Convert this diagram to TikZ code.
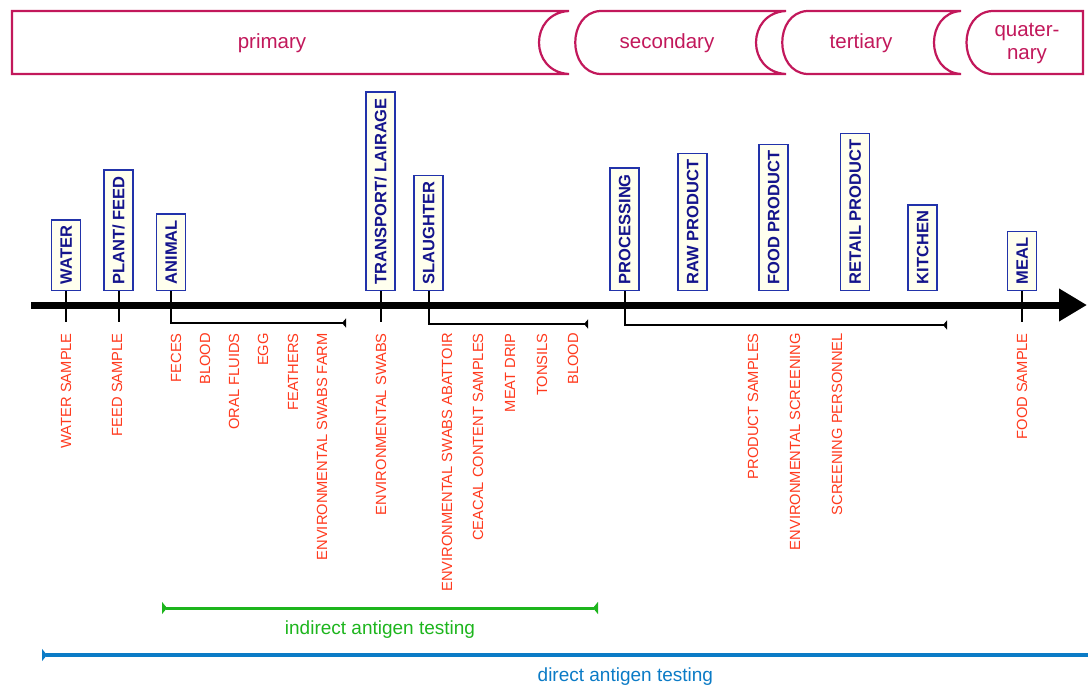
\documentclass[tikz,border=0pt]{standalone}
\usepackage{fontspec}
\setmainfont{Liberation Sans}
\usetikzlibrary{arrows.meta}
\definecolor{phasecol}{HTML}{C2185B}
\definecolor{boxedge}{HTML}{2233AA}
\definecolor{boxtext}{HTML}{14148C}
\definecolor{boxfill}{HTML}{FFFFEE}
\definecolor{samplered}{HTML}{FF3A1E}
\definecolor{indgreen}{HTML}{1DB51D}
\definecolor{dirblue}{HTML}{0B7BC6}

\begin{document}
\begin{tikzpicture}[
x=1pt, y=-1pt,
phase/.style={
  draw=phasecol,
  line width=2.2pt,
  fill=white
  },
phaselabel/.style={text=phasecol, font=\fontsize{20.5}{23}\selectfont, align=center},
stagebox/.style={
  draw=boxedge,
  line width=1.5pt,
  fill=boxfill,
  text=boxtext,
  font=\bfseries\fontsize{16.5}{16.5}\selectfont,
  rotate=90,
  anchor=west,
  inner xsep=6pt,
  inner ysep=8.5pt,
  text height=11.8pt,
  text depth=0pt
  },
sample/.style={text=samplered, font=\fontsize{14.7}{14.7}\selectfont, rotate=90, anchor=east, inner sep=0pt},
stagetick/.style={line width=2pt},
bracket/.style={line width=2pt, -{Triangle[reversed,length=4pt,width=9pt]}},
timeline/.style={line width=7pt, -{Triangle[length=28pt,width=31pt]}},
testing/.style={line width=3pt, {Triangle[reversed,length=5pt,width=12pt]}-{Triangle[reversed,length=5pt,width=12pt]}},
rangelabel/.style={font=\fontsize{19}{22}\selectfont}
]
\useasboundingbox (0,0) rectangle (1088,686);

% phases
\draw[phase] (12,11) -- (569,11) .. controls (529,13) and (529,72) .. (569,74) -- (12,74) -- cycle;
\draw[phase] (600,11) -- (786,11) .. controls (746,13) and (746,72) .. (786,74) -- (600,74) .. controls (567,72) and (567,13) .. (600,11) -- cycle;
\draw[phase] (807,11) -- (961,11) .. controls (925,13) and (925,72) .. (961,74) -- (807,74) .. controls (774,72) and (774,13) .. (807,11) -- cycle;
\draw[phase] (992,11) -- (1083,11) -- (1083,74) -- (992,74) .. controls (958,72) and (958,13) .. (992,11) -- cycle;
\node[phaselabel] (primary) at (272,43) {primary};
\node[phaselabel] (secondary) at (667,43) {secondary};
\node[phaselabel] (tertiary) at (861,43) {tertiary};
\node[phaselabel] (quaternary) at (1027,43) {quater-\\nary};

% stages
\foreach \x/\nm/\txt in {66/water/WATER, 118.5/feed/{PLANT/ FEED}, 171/animal/ANIMAL,
  380.5/transport/{TRANSPORT/ LAIRAGE}, 428.5/slaughter/SLAUGHTER, 624.5/processing/PROCESSING,
  692.5/raw/RAW PRODUCT, 773.5/food/FOOD PRODUCT, 855/retail/RETAIL PRODUCT,
  922.5/kitchen/KITCHEN, 1022/meal/MEAL}
  \node[stagebox] (\nm) at (\x,291) {\txt};

\coordinate (lowend) at (0,322);
\coordinate (animalend) at (346,323);
\coordinate (slaughterend) at (588,324);
\coordinate (processingend) at (947,325);
\foreach \nm in {water,feed,transport,meal}
  \draw[stagetick] (\nm.west) -- (\nm.west |- lowend);
\draw[bracket] (animal.west) |- (animalend);
\draw[bracket] (slaughter.west) |- (slaughterend);
\draw[bracket] (processing.west) |- (processingend);

\coordinate (tstart) at (31,305);
\coordinate (tend) at (1087,305);
\draw[timeline] (tstart) -- (tend);

% samples
\foreach \x/\txt [count=\i] in {66/WATER SAMPLE, 117/FEED SAMPLE, 176/FECES, 205/BLOOD,
  234/ORAL FLUIDS, 263/EGG, 293/FEATHERS, 322/ENVIRONMENTAL SWABS FARM,
  381/ENVIRONMENTAL SWABS, 447/ENVIRONMENTAL SWABS ABATTOIR, 478/CEACAL CONTENT SAMPLES,
  510/MEAT DRIP, 542/TONSILS, 573/BLOOD, 753/PRODUCT SAMPLES,
  795/ENVIRONMENTAL SCREENING, 837/SCREENING PERSONNEL, 1022/FOOD SAMPLE}
  \node[sample] (smp\i) at (\x,333) {\txt};

% testing ranges
\coordinate (indL) at (162,608);
\coordinate (indR) at (598,608);
\coordinate (dirL) at (42,655);
\coordinate (dirR) at (1095,655);
\draw[testing, indgreen] (indL) -- node[below=8pt, rangelabel] {indirect antigen testing} (indR);
\draw[testing, dirblue, line width=3.5pt] (dirL) -- node[pos=0.554, below=8pt, rangelabel] {direct antigen testing} (dirR);
\end{tikzpicture}
\end{document}
